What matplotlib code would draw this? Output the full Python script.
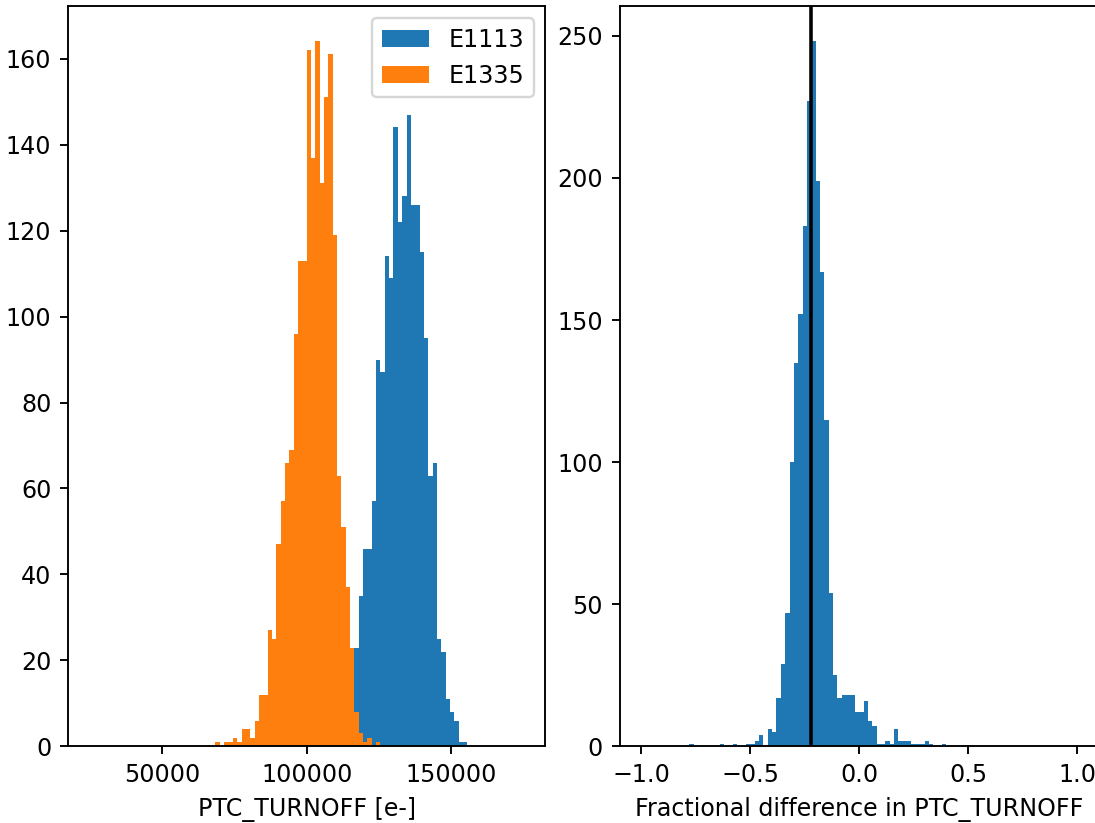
import numpy as np
import matplotlib
matplotlib.use('Agg')
import matplotlib.pyplot as plt

# --- left panel: PTC_TURNOFF histograms, 100 bins of 1500 e- from 25000 to 175000
turnoff_edges = np.linspace(25000, 175000, 101)

# E1335 counts, consecutive bins starting at 68500 e-
e1335_start = 68500
e1335_counts = [1, 0, 1, 1, 2, 1, 4, 4, 2, 6, 12, 12, 27, 25, 47, 57, 66, 69,
                96, 113, 113, 162, 137, 164, 131, 151, 161, 119, 63, 51, 37,
                23, 8, 3, 1, 2, 0, 1]

# E1113 counts, consecutive bins starting at 104500 e- (lowest ones hidden behind E1335)
e1113_start = 104500
e1113_counts = [1, 1, 2, 3, 5, 8, 12, 17, 23, 35, 46, 46, 57, 90, 87, 114, 109,
                144, 122, 128, 147, 126, 126, 115, 95, 63, 66, 25, 22, 11, 8,
                6, 1, 1]

# --- right panel: fractional difference, 100 bins from -1 to 1
frac_edges = np.linspace(-1.0, 1.0, 101)
frac_start = -0.78
frac_counts = [1, 0, 0, 0, 0, 0, 0, 1, 0, 0, 1, 0, 0, 1, 1, 2, 4, 0, 6, 5,
               17, 29, 47, 100, 135, 152, 183, 227, 248, 199, 167, 115, 54,
               25, 17, 18, 18, 18, 12, 12, 16, 9, 7, 1, 1, 2, 1, 6, 2, 2, 2,
               1, 1, 1, 2, 1, 0, 0, 1]
frac_median = -0.221


def full_counts(edges, start, counts):
    """Place a run of counts into the full bin array."""
    out = np.zeros(len(edges) - 1)
    width = edges[1] - edges[0]
    i0 = int(round((start - edges[0]) / width))
    out[i0:i0 + len(counts)] = counts
    return out


fig = plt.figure(figsize=(1095 / 171, 823 / 171), dpi=171)
ax1 = fig.add_axes([0.0620, 0.0931, 0.4361, 0.8993])
# right panel runs slightly past the canvas edge, as in the cropped original
ax2 = fig.add_axes([0.5659, 0.0931, 0.4375, 0.8993])

centers = 0.5 * (turnoff_edges[:-1] + turnoff_edges[1:])
ax1.hist(centers, bins=turnoff_edges,
         weights=full_counts(turnoff_edges, e1113_start, e1113_counts),
         label='E1113')
ax1.hist(centers, bins=turnoff_edges,
         weights=full_counts(turnoff_edges, e1335_start, e1335_counts),
         label='E1335')
ax1.set_xlabel('PTC_TURNOFF [e-]')
ax1.legend(loc='upper right')

fcenters = 0.5 * (frac_edges[:-1] + frac_edges[1:])
ax2.hist(fcenters, bins=frac_edges,
         weights=full_counts(frac_edges, frac_start, frac_counts))
ax2.axvline(frac_median, color='k')
ax2.set_xlabel('Fractional difference in PTC_TURNOFF')

fig.savefig('out.png', dpi=171)
